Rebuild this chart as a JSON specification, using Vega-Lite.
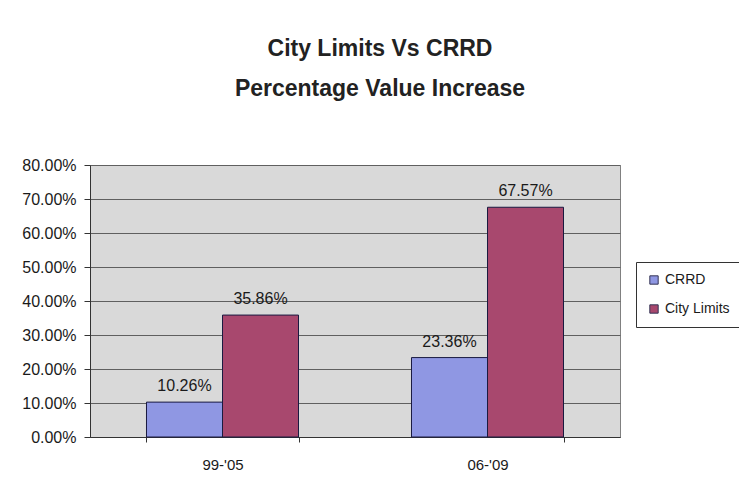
{
  "$schema": "https://vega.github.io/schema/vega-lite/v6.json",
  "width": 530,
  "height": 272,
  "autosize": {"type": "none"},
  "padding": {"left": 90, "top": 165, "right": 119, "bottom": 49},
  "background": "white",
  "config": {
    "font": "Liberation Sans",
    "view": {"fill": "#d9d9d9", "stroke": "#808080", "strokeWidth": 1}
  },
  "title": {
    "text": ["City Limits Vs CRRD", "Percentage Value Increase"],
    "fontSize": 23,
    "fontWeight": "bold",
    "font": "Liberation Sans",
    "color": "#222222",
    "lineHeight": 40,
    "anchor": "middle",
    "dx": 25,
    "offset": 56
  },
  "data": {
    "values": [
      {"period": "99-'05", "series": "CRRD", "value": 0.1026},
      {"period": "99-'05", "series": "City Limits", "value": 0.3586},
      {"period": "06-'09", "series": "CRRD", "value": 0.2336},
      {"period": "06-'09", "series": "City Limits", "value": 0.6757}
    ]
  },
  "encoding": {
    "x": {
      "field": "period",
      "type": "nominal",
      "sort": ["99-'05", "06-'09"],
      "scale": {"paddingInner": 0.4264, "paddingOuter": 0.2132},
      "axis": {
        "title": null,
        "labelAngle": 0,
        "labelFontSize": 15,
        "labelColor": "#1a1a1a",
        "labelPadding": 15,
        "domainColor": "#333333",
        "tickColor": "#333333",
        "tickBand": "extent",
        "tickSize": 5
      }
    },
    "xOffset": {"field": "series", "sort": ["CRRD", "City Limits"]},
    "y": {
      "field": "value",
      "type": "quantitative",
      "scale": {"domain": [0, 0.8]},
      "axis": {
        "title": null,
        "format": ".2%",
        "values": [0, 0.1, 0.2, 0.3, 0.4, 0.5, 0.6, 0.7, 0.8],
        "labelFontSize": 16,
        "labelColor": "#1a1a1a",
        "labelPadding": 8,
        "domainColor": "#333333",
        "tickColor": "#333333",
        "tickSize": 6,
        "gridColor": "#606060",
        "gridWidth": 1
      }
    }
  },
  "layer": [
    {
      "mark": {"type": "bar", "stroke": "#1a1a40", "strokeWidth": 1},
      "encoding": {
        "color": {
          "field": "series",
          "type": "nominal",
          "sort": ["CRRD", "City Limits"],
          "scale": {"domain": ["CRRD", "City Limits"], "range": ["#8f97e3", "#a8486e"]},
          "legend": {
            "title": null,
            "orient": "none",
            "legendX": 546,
            "legendY": 97,
            "symbolType": "square",
            "symbolSize": 70,
            "symbolStrokeColor": "#333355",
            "symbolStrokeWidth": 1,
            "labelFontSize": 14,
            "labelColor": "#1a1a1a",
            "rowPadding": 15,
            "padding": 11,
            "strokeColor": "#333333",
            "fillColor": "white"
          }
        }
      }
    },
    {
      "mark": {"type": "text", "baseline": "bottom", "dy": -8, "fontSize": 16, "color": "#1a1a1a"},
      "encoding": {
        "text": {"field": "value", "type": "quantitative", "format": ".2%"}
      }
    }
  ]
}
